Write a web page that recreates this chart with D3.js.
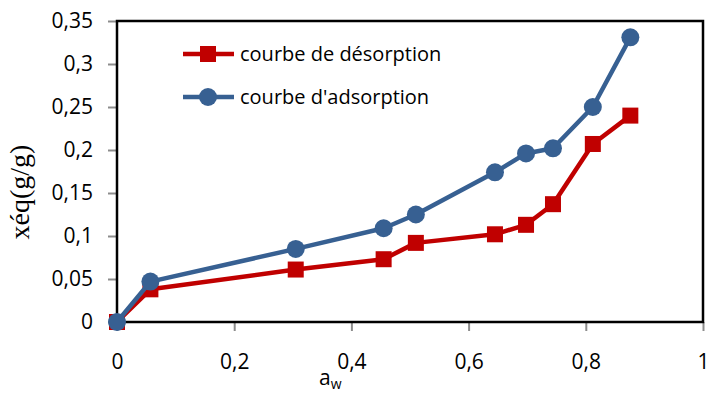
<!DOCTYPE html>
<html>
<head>
<meta charset="utf-8">
<script src="https://cdn.jsdelivr.net/npm/d3@7"></script>
<style>
  body { margin: 0; background: #fff; }
  svg { display: block; }
</style>
</head>
<body>
<svg id="chart" width="715" height="398"></svg>
<script>
// water activity (a_w) values, shared by both curves
const aw = [0, 0.057, 0.305, 0.455, 0.51, 0.645, 0.698, 0.744, 0.812, 0.876];
const desorption = [0, 0.038, 0.061, 0.073, 0.092, 0.102, 0.113, 0.137, 0.207, 0.240];
const adsorption = [0, 0.047, 0.085, 0.109, 0.125, 0.174, 0.196, 0.202, 0.250, 0.331];
const xTicks = [0, 0.2, 0.4, 0.6, 0.8, 1];
const yTicks = [0, 0.05, 0.1, 0.15, 0.2, 0.25, 0.3, 0.35];
const seriesNames = ["courbe de désorption", "courbe d'adsorption"];

const svg = d3.select('#chart');
const plotLeft = 117, plotRight = 703, plotTop = 21, plotBottom = 322;

const x = d3.scaleLinear().domain([0, 1]).range([plotLeft, plotRight]);
const y = d3.scaleLinear().domain([0, 0.35]).range([plotBottom, plotTop]);
const fmt = d => String(d).replace('.', ',');
const font = "'Open Sans', sans-serif";

// axes (ticks only, frame drawn separately)
const yAxis = svg.append('g').attr('transform', `translate(${plotLeft},0)`)
  .call(d3.axisLeft(y).tickValues(yTicks).tickFormat(fmt).tickSize(9).tickPadding(15));
const xAxis = svg.append('g').attr('transform', `translate(0,${plotBottom})`)
  .call(d3.axisBottom(x).tickValues(xTicks).tickFormat(fmt).tickSize(9).tickPadding(23));
[yAxis, xAxis].forEach(a => {
  a.select('.domain').remove();
  a.selectAll('line').attr('stroke', '#8c8c8c').attr('stroke-width', 2);
  a.selectAll('text').attr('font-family', font).attr('font-size', 21).attr('fill', '#000');
});

// plot frame
svg.append('rect')
  .attr('x', plotLeft).attr('y', plotTop)
  .attr('width', plotRight - plotLeft).attr('height', plotBottom - plotTop)
  .attr('fill', 'none').attr('stroke', '#000').attr('stroke-width', 2.5);

// axis titles
svg.append('text')
  .attr('transform', 'translate(29,192) rotate(-90)')
  .attr('text-anchor', 'middle')
  .attr('font-family', "'Liberation Serif', serif")
  .attr('font-size', 28)
  .text('xéq(g/g)');
const awLabel = svg.append('text').attr('x', 319).attr('y', 385)
  .attr('font-family', font).attr('font-size', 21);
awLabel.append('tspan').text('a');
awLabel.append('tspan').attr('dy', 4).attr('font-size', 14).text('w');

const line = d3.line().x(d => x(d[0])).y(d => y(d[1]));
const series = [
  { name: seriesNames[0], color: '#c00000', values: desorption, shape: 'square' },
  { name: seriesNames[1], color: '#376092', values: adsorption, shape: 'circle' }
];

function marker(g, shape, color) {
  if (shape === 'square') {
    g.append('rect').attr('x', -8).attr('y', -8).attr('width', 16).attr('height', 16).attr('fill', color);
  } else {
    g.append('circle').attr('r', 9).attr('fill', color);
  }
}

series.forEach(s => {
  const pts = aw.map((a, i) => [a, s.values[i]]);
  svg.append('path').datum(pts)
    .attr('d', line)
    .attr('fill', 'none')
    .attr('stroke', s.color)
    .attr('stroke-width', 4.5)
    .attr('stroke-linejoin', 'round');
  svg.append('g').selectAll('g')
    .data(pts)
    .join('g')
    .attr('transform', d => `translate(${x(d[0])},${y(d[1])})`)
    .each(function() { marker(d3.select(this), s.shape, s.color); });
});

// legend
series.forEach((s, i) => {
  const ly = 54 + i * 43;
  const g = svg.append('g');
  g.append('line').attr('x1', 183).attr('x2', 234).attr('y1', ly).attr('y2', ly)
    .attr('stroke', s.color).attr('stroke-width', 4.5);
  const m = g.append('g').attr('transform', `translate(208,${ly})`);
  marker(m, s.shape, s.color);
  g.append('text').attr('x', 240).attr('y', ly + 7)
    .attr('font-family', font).attr('font-size', 20)
    .text(s.name);
});
</script>
</body>
</html>
